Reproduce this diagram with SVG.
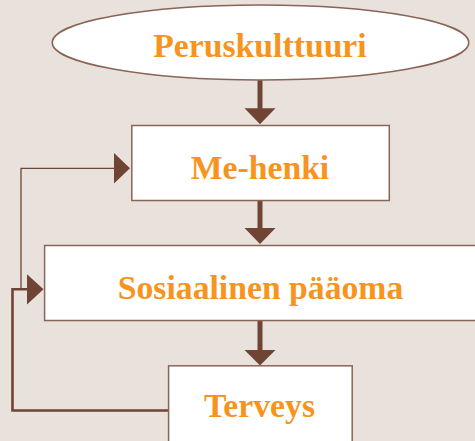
<svg xmlns="http://www.w3.org/2000/svg" width="475" height="441" viewBox="0 0 475 441">
<style>
.node{fill:#ffffff;stroke:#8a6556;stroke-width:1.5}
.lbl{font-family:"Liberation Serif","Times New Roman",serif;font-weight:bold;font-size:33.7px;fill:#f7941d;text-anchor:middle}
.shaft{stroke:#6f4434;stroke-width:5;fill:none}
.head{fill:#6f4434}
.thin{stroke:#6f4434;stroke-width:1.3;fill:none}
.thick{stroke:#6f4434;stroke-width:2.6;fill:none}
</style>
<rect x="0" y="0" width="475" height="441" fill="#e9e1dc"/>
<g id="connectors">
<line class="shaft" x1="260" y1="80" x2="260" y2="109"/>
<polygon class="head" points="244.5,108.3 275.5,108.3 260,124.3"/>
<line class="shaft" x1="260" y1="200" x2="260" y2="229"/>
<polygon class="head" points="244.5,228 275.5,228 260,244"/>
<line class="shaft" x1="260" y1="320" x2="260" y2="351"/>
<polygon class="head" points="244.5,350 275.5,350 260,365.5"/>
<polyline class="thin" points="115,168.3 21,168.3 21,289.5"/>
<polygon class="head" points="114,153 114,183.5 130,168.3"/>
<polyline class="thick" points="169,410.5 12.5,410.5 12.5,289.3 28,289.3"/>
<polygon class="head" points="27,274.3 27,304.5 43.5,289.3"/>
</g>
<g id="peruskulttuuri">
<ellipse class="node" cx="260.5" cy="42.5" rx="208.3" ry="37.5"/>
<text class="lbl" x="260" y="56.7">Peruskulttuuri</text>
</g>
<g id="me-henki">
<rect class="node" x="131.8" y="125.5" width="257.5" height="75"/>
<text class="lbl" x="260" y="178.5">Me-henki</text>
</g>
<g id="sosiaalinen-paaoma">
<rect class="node" x="44.6" y="245.5" width="440" height="75"/>
<text class="lbl" x="260.5" y="299.2">Sosiaalinen pääoma</text>
</g>
<g id="terveys">
<rect class="node" x="168.6" y="365.8" width="183.6" height="85"/>
<text class="lbl" x="259.5" y="416.8">Terveys</text>
</g>
</svg>
